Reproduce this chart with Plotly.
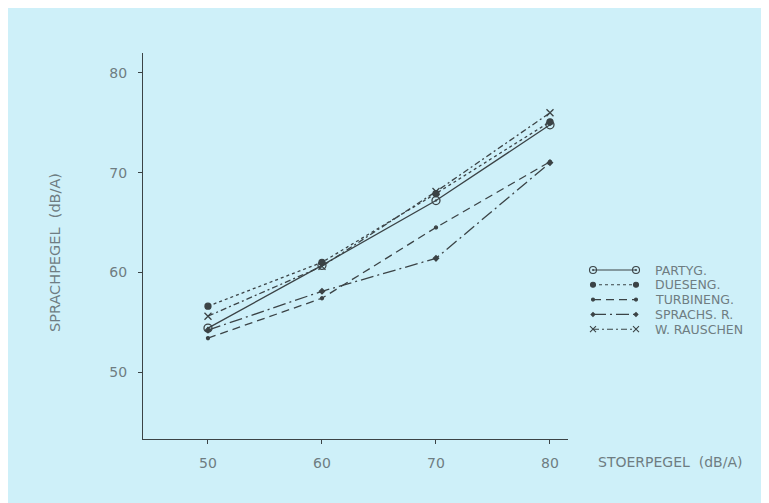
import plotly.graph_objects as go

# ---- data ----
x_levels = [50, 60, 70, 80]
partyg = [54.4, 60.7, 67.2, 74.8]
dueseng = [56.6, 61.0, 67.9, 75.1]
turbineng = [53.4, 57.4, 64.5, 71.1]
sprachs_r = [54.2, 58.1, 61.4, 71.0]
w_rauschen = [55.6, 60.6, 68.1, 76.0]
series_names = ["PARTYG.", "DUESENG.", "TURBINENG.", "SPRACHS.\u00a0R.", "W.\u00a0RAUSCHEN"]
x_ticks = [50, 60, 70, 80]
y_ticks = [50, 60, 70, 80]

W, H = 769, 503
BG = "rgb(206,240,249)"
INK = "#3b4346"
TXT = "#6e7d82"
FONT = "DejaVu Sans"

styles = [
    dict(dash="solid", symbol="circle-open-dot", size=8),
    dict(dash="dot", symbol="circle", size=6),
    dict(dash="8px,5px", symbol="circle", size=3),
    dict(dash="13px,4px,2px,4px", symbol="diamond", size=4),
    dict(dash="6px,3px,2px,3px", symbol="x-thin", size=7),
]
values = [partyg, dueseng, turbineng, sprachs_r, w_rauschen]

fig = go.Figure()
for name, vals, st in zip(series_names, values, styles):
    fig.add_trace(go.Scatter(
        x=x_levels, y=vals, name=name, mode="lines+markers",
        line=dict(color=INK, width=1.3, dash=st["dash"]),
        marker=dict(symbol=st["symbol"], size=st["size"], color=INK,
                    line=dict(color=INK, width=1.3)),
        showlegend=False, xaxis="x", yaxis="y"))

# ---- hand-drawn legend on a pixel overlay axis ----
leg_x0, leg_x1, leg_tx = 585, 628, 645
leg_y0, leg_dy = 262, 14.8
annotations = []
for i, (name, st) in enumerate(zip(series_names, styles)):
    yy = leg_y0 + i * leg_dy
    fig.add_trace(go.Scatter(
        x=[leg_x0, leg_x1], y=[yy, yy], mode="lines+markers",
        line=dict(color=INK, width=1.1, dash=st["dash"]),
        marker=dict(symbol=st["symbol"], size=max(st["size"] - 1, 3), color=INK,
                    line=dict(color=INK, width=1.1)),
        showlegend=False, hoverinfo="skip", xaxis="x2", yaxis="y2"))
    annotations.append(dict(x=leg_tx, y=yy, xref="x2", yref="y2", text=name,
                            showarrow=False, xanchor="left", yanchor="middle",
                            font=dict(family=FONT, size=12.5, color=TXT)))

annotations.append(dict(x=588, y=454, xref="x2", yref="y2",
                        text="STOERPEGEL\u00a0\u00a0(dB/A)", showarrow=False,
                        xanchor="left", yanchor="middle",
                        font=dict(family=FONT, size=14, color=TXT)))
annotations.append(dict(x=47, y=245, xref="x2", yref="y2",
                        text="SPRACHPEGEL\u00a0\u00a0(dB/A)", showarrow=False,
                        textangle=-90, xanchor="center", yanchor="middle",
                        font=dict(family=FONT, size=14.5, color=TXT)))

fig.update_layout(
    width=W, height=H,
    margin=dict(l=0, r=0, t=0, b=0),
    paper_bgcolor=BG, plot_bgcolor="rgba(0,0,0,0)",
    showlegend=False,
    annotations=annotations,
    xaxis=dict(domain=[135 / W, 560 / W], range=[44.3, 81.58],
               tickvals=x_ticks, ticktext=[str(v) for v in x_ticks],
               showgrid=False, zeroline=False, showline=True, linecolor=INK,
               linewidth=1, ticks="outside", ticklen=4, tickcolor=INK,
               ticklabelstandoff=7, anchor="y",
               tickfont=dict(family=FONT, size=14, color=TXT)),
    yaxis=dict(domain=[(H - 431) / H, (H - 45) / H], range=[43.28, 82.0],
               tickvals=y_ticks, ticktext=[str(v) for v in y_ticks],
               showgrid=False, zeroline=False, showline=True, linecolor=INK,
               linewidth=1, ticks="outside", ticklen=4, tickcolor=INK,
               ticklabelstandoff=8, anchor="x",
               tickfont=dict(family=FONT, size=14, color=TXT)),
    xaxis2=dict(domain=[0, 1], range=[0, W], visible=False, anchor="y2",
                fixedrange=True),
    yaxis2=dict(domain=[0, 1], range=[H, 0], visible=False, anchor="x2",
                fixedrange=True),
)

fig.write_html("out.html")
